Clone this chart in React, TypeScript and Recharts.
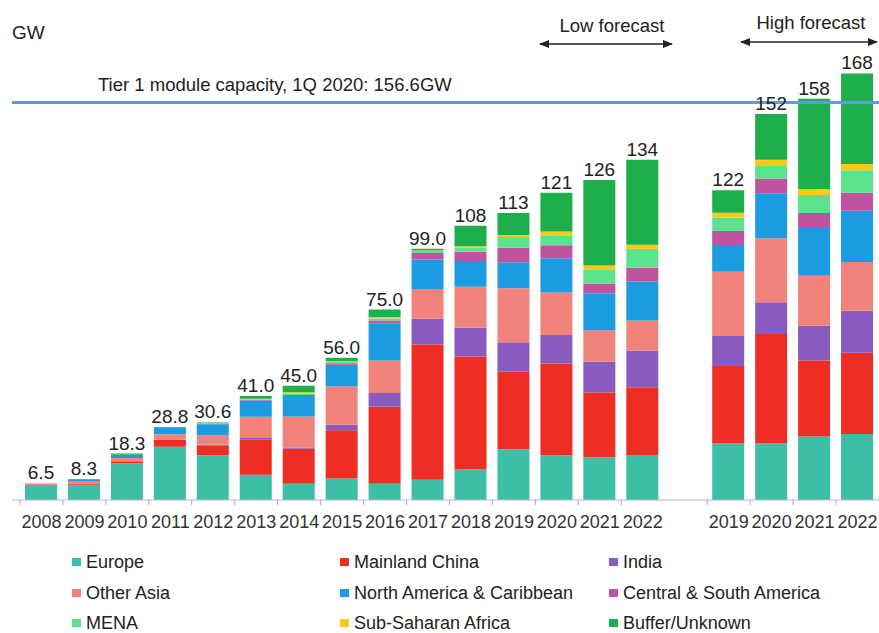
import { Bar, BarChart, LabelList, ReferenceLine, XAxis, YAxis } from "recharts";

const categories = [
  "2008", "2009", "2010", "2011", "2012", "2013", "2014", "2015", "2016", "2017",
  "2018", "2019", "2020", "2021", "2022", "gap", "2019H", "2020H", "2021H", "2022H",
];

const totals = [
  "6.5", "8.3", "18.3", "28.8", "30.6", "41.0", "45.0", "56.0", "75.0", "99.0",
  "108", "113", "121", "126", "134", "", "122", "152", "158", "168",
];

const europe = [5.9, 6.0, 14.5, 21.0, 17.6, 9.9, 6.4, 8.5, 6.4, 8.0, 12.0, 20.0, 17.6, 16.8, 17.7, null, 22.3, 22.3, 25.0, 26.0];
const china = [0.2, 0.5, 0.8, 2.6, 3.8, 14.0, 13.8, 19.0, 30.3, 53.2, 44.5, 30.5, 36.2, 25.5, 26.7, null, 30.5, 43.1, 29.9, 32.0];
const india = [0, 0, 0, 0.1, 0.4, 0.5, 0.5, 2.1, 5.4, 10.2, 11.3, 11.6, 11.2, 12.3, 14.5, null, 11.8, 12.5, 13.7, 16.5];
const otherAsia = [0.2, 1.0, 1.2, 2.2, 3.7, 8.4, 12.2, 15.1, 12.8, 11.7, 16.2, 21.3, 16.7, 12.3, 11.8, null, 25.3, 25.2, 19.7, 19.2];
const northAmerica = [0.1, 0.5, 1.3, 2.6, 4.3, 6.4, 8.1, 8.6, 14.5, 11.6, 10.1, 10.2, 13.5, 14.5, 15.4, null, 10.5, 17.7, 19.2, 20.2];
const southAmerica = [0, 0, 0, 0, 0.3, 0.3, 0.4, 0.6, 1.3, 2.6, 3.7, 5.8, 5.1, 3.9, 5.4, null, 5.6, 5.8, 5.5, 7.1];
const mena = [0, 0, 0, 0, 0.2, 0.2, 0.4, 0.5, 0.8, 0.8, 1.6, 4.2, 3.7, 5.3, 7.4, null, 5.3, 5.0, 7.1, 8.9];
const subSaharan = [0, 0, 0, 0, 0.1, 0.2, 0.6, 0.3, 0.6, 0.2, 0.5, 0.8, 1.8, 1.8, 1.6, null, 1.8, 2.4, 2.4, 2.4];
const buffer = [0.1, 0.3, 0.5, 0.3, 0.2, 1.1, 2.6, 1.3, 2.9, 0.7, 8.1, 8.6, 15.2, 33.6, 33.5, null, 8.9, 18.0, 35.5, 35.7];

const series = [
  { key: "europe", name: "Europe", color: "#3dbfa6", values: europe },
  { key: "china", name: "Mainland China", color: "#ee2e24", values: china },
  { key: "india", name: "India", color: "#8a5bbf", values: india },
  { key: "otherAsia", name: "Other Asia", color: "#f2837a", values: otherAsia },
  { key: "northAmerica", name: "North America & Caribbean", color: "#1b9be0", values: northAmerica },
  { key: "southAmerica", name: "Central & South America", color: "#c0539f", values: southAmerica },
  { key: "mena", name: "MENA", color: "#5ae38c", values: mena },
  { key: "subSaharan", name: "Sub-Saharan Africa", color: "#fbc918", values: subSaharan },
  { key: "buffer", name: "Buffer/Unknown", color: "#1fae4c", values: buffer },
];

const tier1Capacity = 156.6;

const data = categories.map((cat, i) => {
  const row: Record<string, any> = { cat, label: totals[i] };
  series.forEach((s) => {
    row[s.key] = s.values[i];
  });
  return row;
});

const FONT = "'Liberation Sans', Arial, Helvetica, sans-serif";

const YearTick = (props: any) => {
  const { x, y, payload } = props;
  if (payload.value === "gap") return null;
  const text = String(payload.value).replace("H", "");
  return (
    <g>
      <line x1={x - 21.5} x2={x - 21.5} y1={y} y2={y + 5} stroke="#aaa" strokeWidth={1} />
      <text x={x} y={y + 28} textAnchor="middle" fontSize={18} fill="#333" fontFamily={FONT}>
        {text}
      </text>
    </g>
  );
};

function LegendGrid() {
  const cols = [72, 340, 609];
  const rows = [562, 593, 623];
  return (
    <div style={{ position: "absolute", left: 0, top: 0, width: 879, height: 633, pointerEvents: "none" }}>
      {series.map((s, i) => (
        <div
          key={s.key}
          style={{
            position: "absolute",
            left: cols[i % 3],
            top: rows[Math.floor(i / 3)] - 11,
            height: 22,
            display: "flex",
            alignItems: "center",
            fontFamily: FONT,
            fontSize: 18,
            color: "#222",
            whiteSpace: "nowrap",
          }}
        >
          <span style={{ width: 9, height: 8, background: s.color, marginRight: 5, display: "inline-block" }} />
          {s.name}
        </div>
      ))}
    </div>
  );
}

function Annotations() {
  return (
    <svg width={879} height={633} style={{ position: "absolute", left: 0, top: 0, pointerEvents: "none" }}>
      <defs>
        <marker id="arr" viewBox="0 0 10 10" refX="9" refY="5" markerWidth="7" markerHeight="7" orient="auto-start-reverse">
          <path d="M0,1 L10,5 L0,9 z" fill="#222" />
        </marker>
      </defs>
      <text x={12} y={39} fontSize={19} fill="#222" fontFamily={FONT}>GW</text>
      <text x={98} y={91} fontSize={18.5} fill="#222" fontFamily={FONT}>
        Tier 1 module capacity, 1Q 2020: 156.6GW
      </text>
      <text x={612} y={32} fontSize={18.5} fill="#222" fontFamily={FONT} textAnchor="middle">Low forecast</text>
      <line x1={540} x2={672} y1={44} y2={44} stroke="#222" strokeWidth={1.5} markerStart="url(#arr)" markerEnd="url(#arr)" />
      <text x={811} y={29} fontSize={18.5} fill="#222" fontFamily={FONT} textAnchor="middle">High forecast</text>
      <line x1={741} x2={877} y1={42} y2={42} stroke="#222" strokeWidth={1.5} markerStart="url(#arr)" markerEnd="url(#arr)" />
    </svg>
  );
}

export default function App() {
  return (
    <div style={{ position: "absolute", left: 0, top: 0, width: 879, height: 633, background: "#fff" }}>
      <BarChart
        width={879}
        height={633}
        data={data}
        margin={{ top: 43, right: 0, left: 12, bottom: 103 }}
        barSize={32}
      >
        <XAxis
          dataKey="cat"
          height={30}
          padding={{ left: 8, right: 0 }}
          tickLine={false}
          tickSize={0}
          tickMargin={0}
          interval={0}
          axisLine={{ stroke: "#bbb" }}
          tick={<YearTick />}
        />
        <YAxis hide domain={[0, 180]} />
        <ReferenceLine y={tier1Capacity} stroke="#5e9cdb" strokeWidth={3} />
        {series.map((s, i) => (
          <Bar key={s.key} dataKey={s.key} name={s.name} stackId="a" fill={s.color} isAnimationActive={false}>
            {i === series.length - 1 && (
              <LabelList dataKey="label" position="top" offset={4} fontSize={19} fill="#222" fontFamily={FONT} />
            )}
          </Bar>
        ))}
      </BarChart>
      <Annotations />
      <LegendGrid />
    </div>
  );
}
